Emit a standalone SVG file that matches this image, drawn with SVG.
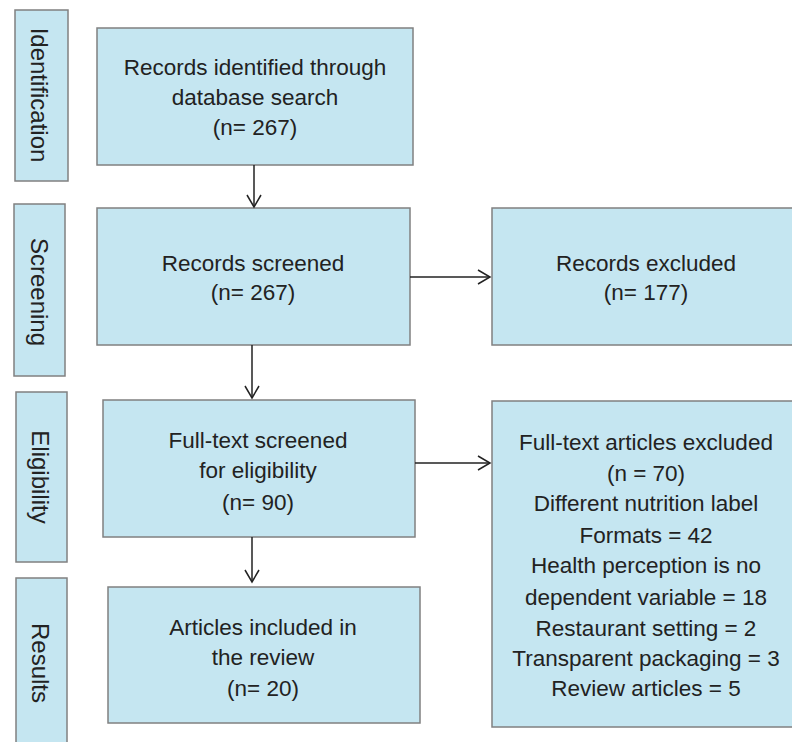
<svg xmlns="http://www.w3.org/2000/svg" width="792" height="742" viewBox="0 0 792 742">
<style>
.box{fill:#c5e6f1;stroke:#808080;stroke-width:1.5}
.t{font-family:"Liberation Sans",Arial,sans-serif;font-size:22.5px;fill:#222;text-anchor:middle}
.s{font-size:24px}
.c{stroke:#222;stroke-width:1.5;fill:none}
</style>
<defs>
<marker id="a" markerWidth="16" markerHeight="16" refX="13" refY="8" orient="auto" markerUnits="userSpaceOnUse">
<path d="M1,1 L13,8 L1,15" fill="none" stroke="#222" stroke-width="1.5"/>
</marker>
</defs>
<rect width="792" height="742" fill="#fff"/>
<g id="phase-identification"><rect class="box" x="15" y="10" width="53" height="171"/><text class="t s" transform="translate(31,95) rotate(90)">Identification</text></g>
<g id="phase-screening"><rect class="box" x="14" y="204" width="51" height="172"/><text class="t s" transform="translate(31,292) rotate(90)">Screening</text></g>
<g id="phase-eligibility"><rect class="box" x="16" y="392" width="51" height="170"/><text class="t s" transform="translate(32,477) rotate(90)">Eligibility</text></g>
<g id="phase-results"><rect class="box" x="16" y="578" width="51" height="180"/><text class="t s" transform="translate(32,663) rotate(90)">Results</text></g>
<g id="identified"><rect class="box" x="97" y="28" width="316" height="137"/><text class="t" x="255" y="75">Records identified through</text><text class="t" x="255" y="105">database search</text><text class="t" x="255" y="135">(n= 267)</text></g>
<g id="screened"><rect class="box" x="97" y="208" width="313" height="137"/><text class="t" x="253" y="271">Records screened</text><text class="t" x="253" y="300">(n= 267)</text></g>
<g id="excluded"><rect class="box" x="492" y="208" width="310" height="137"/><text class="t" x="646" y="271">Records excluded</text><text class="t" x="646" y="300">(n= 177)</text></g>
<g id="fulltext"><rect class="box" x="103" y="400" width="312" height="137"/><text class="t" x="258" y="448">Full-text screened</text><text class="t" x="258" y="478">for eligibility</text><text class="t" x="258" y="510">(n= 90)</text></g>
<g id="fulltext-excluded"><rect class="box" x="492" y="401" width="310" height="326"/>
<text class="t" x="646" y="450">Full-text articles excluded</text>
<text class="t" x="646" y="481">(n = 70)</text>
<text class="t" x="646" y="511">Different nutrition label</text>
<text class="t" x="646" y="543">Formats = 42</text>
<text class="t" x="646" y="573">Health perception is no</text>
<text class="t" x="646" y="605">dependent variable = 18</text>
<text class="t" x="646" y="636">Restaurant setting = 2</text>
<text class="t" x="646" y="666">Transparent packaging = 3</text>
<text class="t" x="646" y="696">Review articles = 5</text></g>
<g id="included"><rect class="box" x="108" y="587" width="312" height="136"/><text class="t" x="263" y="635">Articles included in</text><text class="t" x="263" y="665">the review</text><text class="t" x="263" y="696">(n= 20)</text></g>
<g id="connectors">
<line class="c" x1="254" y1="165" x2="254" y2="207" marker-end="url(#a)"/>
<line class="c" x1="410" y1="277" x2="490" y2="277" marker-end="url(#a)"/>
<line class="c" x1="252" y1="345" x2="252" y2="398" marker-end="url(#a)"/>
<line class="c" x1="415" y1="463" x2="490" y2="463" marker-end="url(#a)"/>
<line class="c" x1="252" y1="537" x2="252" y2="582" marker-end="url(#a)"/>
</g>
</svg>
